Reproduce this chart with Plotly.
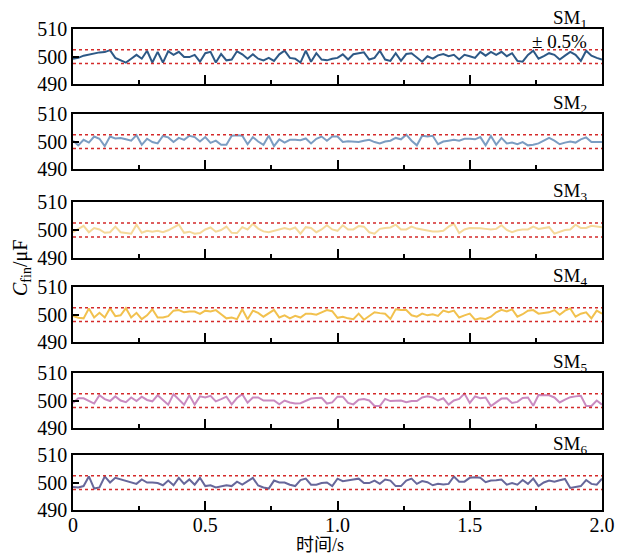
import plotly.graph_objects as go

# ---------------- data ----------------
n_pts = 101
time_s = [i * 0.02 for i in range(n_pts)]

sm1 = [499.2, 499.5, 500.3, 500.7, 501.2, 501.5, 501.6, 502.3, 499.5, 498.7,
       497.8, 499.2, 500.6, 499.2, 502.1, 497.8, 501.7, 497.8, 501.9, 500.6,
       501.7, 499.8, 499.8, 500.6, 498.1, 501.2, 501.7, 497.8, 500.9, 498.6,
       498.9, 501.9, 500.8, 499.2, 500.8, 499.2, 498.6, 499.5, 498.4, 500.8,
       502.1, 499.5, 499.2, 497.8, 502.1, 498.1, 501.2, 498.9, 498.6, 499.2,
       499.5, 500.8, 498.9, 500.8, 501.2, 501.5, 498.9, 499.5, 502.1, 498.9,
       498.4, 501.2, 498.4, 500.9, 501.2, 499.5, 498.1, 500.1, 499.2, 500.4,
       500.9, 500.1, 500.6, 498.9, 500.6, 500.1, 499.5, 501.7, 500.3, 501.7,
       500.6, 501.7, 500.1, 501.2, 498.4, 498.1, 500.6, 502.1, 499.2, 500.1,
       501.2, 500.6, 498.9, 500.3, 501.7, 500.6, 498.4, 502.1, 500.3, 499.5,
       498.9]

sm2 = [500.3, 498.6, 500.6, 499.6, 501.8, 501.0, 498.3, 501.8, 501.1, 501.3,
       500.8, 500.3, 502.3, 498.8, 501.0, 499.8, 499.3, 502.0, 501.5, 499.8,
       501.3, 500.6, 502.1, 501.6, 500.0, 501.6, 499.5, 500.3, 498.8, 498.8,
       502.1, 502.3, 502.1, 499.0, 501.6, 500.0, 498.8, 502.1, 498.3, 500.8,
       499.6, 500.6, 500.6, 500.5, 501.1, 499.3, 501.0, 501.8, 500.3, 501.8,
       501.8, 499.8, 500.1, 500.0, 499.8, 500.3, 500.6, 499.8, 499.3, 500.0,
       500.3, 501.3, 500.8, 502.5, 500.3, 498.6, 502.1, 501.8, 502.1, 499.0,
       500.0, 500.3, 500.6, 500.3, 501.0, 501.0, 500.8, 501.6, 498.6, 502.0,
       498.8, 501.3, 499.3, 499.6, 499.0, 499.8, 498.6, 498.8, 499.3, 500.3,
       501.3, 500.3, 499.0, 499.6, 500.0, 499.6, 500.8, 501.5, 499.8, 499.8,
       499.8]

sm3 = [499.2, 500.2, 501.5, 499.2, 500.7, 500.2, 499.0, 499.2, 501.2, 499.2,
       499.0, 498.7, 501.9, 499.0, 499.7, 499.4, 499.7, 499.2, 499.9, 500.9,
       501.9, 499.0, 499.4, 498.7, 498.9, 500.2, 500.9, 499.4, 500.0, 501.2,
       499.0, 498.9, 501.0, 500.2, 502.2, 500.5, 499.5, 499.2, 499.7, 500.2,
       500.7, 500.2, 500.9, 498.7, 501.0, 500.7, 499.2, 500.2, 501.7, 500.2,
       499.7, 501.7, 500.2, 500.2, 501.4, 501.2, 499.2, 498.7, 500.4, 500.7,
       500.9, 501.9, 500.2, 500.2, 501.2, 500.5, 500.2, 499.7, 499.5, 499.5,
       499.7, 501.2, 502.2, 498.9, 500.2, 500.7, 500.7, 500.6, 500.4, 500.2,
       500.4, 501.7, 500.0, 499.2, 499.9, 500.2, 500.2, 501.2, 500.4, 500.7,
       501.0, 498.7, 499.4, 500.0, 500.2, 501.9, 500.7, 500.7, 501.5, 501.2,
       501.0]

sm4 = [499.5, 498.8, 498.6, 502.2, 498.9, 500.6, 498.9, 502.3, 499.4, 499.7,
       502.3, 498.9, 500.6, 498.3, 499.7, 501.9, 498.9, 498.9, 499.4, 501.4,
       501.6, 500.8, 501.1, 501.1, 500.2, 501.4, 501.1, 501.6, 500.1, 498.6,
       498.9, 498.3, 501.9, 498.3, 501.4, 500.6, 499.2, 500.3, 501.7, 498.9,
       499.7, 498.6, 499.5, 498.9, 500.3, 500.3, 499.9, 500.8, 501.6, 501.2,
       498.8, 499.2, 498.6, 498.3, 500.3, 498.1, 499.5, 500.8, 500.5, 500.3,
       498.4, 501.9, 501.6, 501.6, 499.7, 499.2, 500.3, 499.7, 500.1, 499.5,
       501.4, 500.8, 501.4, 498.9, 499.7, 500.3, 498.1, 498.6, 498.4, 499.2,
       500.8, 501.7, 501.1, 501.9, 499.2, 500.1, 501.4, 501.6, 500.3, 500.5,
       500.8, 501.6, 499.9, 501.4, 502.2, 499.2, 500.3, 500.8, 498.6, 501.4,
       500.3]

sm5 = [499.1, 500.8, 500.8, 499.8, 498.9, 501.9, 500.5, 499.8, 501.5, 500.0,
       499.4, 501.1, 499.8, 501.4, 500.2, 499.7, 501.9, 500.2, 498.5, 502.3,
       500.3, 498.5, 501.9, 498.5, 501.5, 501.1, 501.7, 499.7, 500.5, 501.4,
       498.6, 500.9, 502.3, 499.2, 501.1, 501.1, 500.0, 500.0, 500.0, 498.6,
       500.0, 499.3, 498.9, 499.0, 500.0, 500.7, 500.9, 501.0, 498.9, 499.3,
       501.4, 501.4, 499.1, 498.6, 500.3, 500.5, 500.0, 498.0, 498.0, 500.6,
       499.8, 500.0, 500.0, 499.4, 499.8, 499.8, 501.1, 501.5, 501.1, 500.0,
       500.8, 498.5, 500.0, 500.6, 502.5, 499.1, 501.5, 500.8, 501.1, 498.0,
       499.3, 500.7, 500.8, 499.1, 499.5, 500.9, 501.1, 498.1, 502.0, 501.9,
       501.9, 501.1, 499.3, 500.3, 501.2, 501.5, 501.7, 498.0, 498.0, 500.0,
       498.5]

sm6 = [498.4, 498.2, 498.7, 502.2, 497.8, 498.2, 502.2, 500.0, 501.7, 501.2,
       500.7, 500.1, 499.5, 501.1, 500.0, 500.0, 499.8, 499.0, 500.7, 499.0,
       501.7, 499.5, 501.1, 499.2, 501.7, 498.7, 499.0, 498.2, 498.5, 499.0,
       498.7, 500.3, 499.2, 500.3, 501.7, 498.9, 498.2, 497.8, 500.7, 500.0,
       500.0, 499.2, 498.7, 500.9, 501.4, 499.2, 499.2, 499.8, 500.0, 498.7,
       501.4, 500.5, 500.7, 501.1, 501.4, 499.8, 499.8, 500.7, 499.5, 501.1,
       500.7, 498.7, 498.7, 500.7, 501.4, 499.5, 500.5, 500.1, 499.0, 499.5,
       499.3, 499.5, 502.2, 500.3, 500.3, 501.7, 501.9, 501.7, 500.1, 500.7,
       500.8, 501.1, 499.2, 499.8, 499.2, 500.9, 499.5, 501.4, 498.7, 500.0,
       500.7, 500.3, 500.8, 501.3, 498.0, 498.4, 498.7, 500.9, 499.5, 499.2,
       501.4]

series = [sm1, sm2, sm3, sm4, sm5, sm6]
series_names = ["SM<sub>1</sub>", "SM<sub>2</sub>", "SM<sub>3</sub>",
                "SM<sub>4</sub>", "SM<sub>5</sub>", "SM<sub>6</sub>"]
colors = ["#2d5986", "#7b9dc2", "#f5d99a", "#f2c14e", "#c98ac0", "#67679a"]

nominal = 500.0
tolerance_pct = 0.5
upper = nominal * (1 + tolerance_pct / 100)
lower = nominal * (1 - tolerance_pct / 100)

y_ticks = [490, 500, 510]
x_tickvals = [0, 0.5, 1.0, 1.5, 2.0]
x_ticktext = ["0", "0.5", "1.0", "1.5", "2.0"]

# ---------------- layout geometry ----------------
W, H = 619, 554
ml, mr, mt, mb = 73, 17, 29, 44
plot_w = W - ml - mr
plot_h = H - mt - mb
panel_px = [(29, 84), (114, 169), (202, 258), (287, 342), (373, 428), (455, 510)]
domains = [[(H - mb - bot) / plot_h, min(1.0, (H - mb - top) / plot_h)] for top, bot in panel_px]

FONT = "Liberation Serif, Times New Roman, Noto Sans CJK SC, serif"

fig = go.Figure()
layout = dict(
    width=W, height=H,
    margin=dict(l=ml, r=mr, t=mt, b=mb, autoexpand=False),
    paper_bgcolor="white", plot_bgcolor="white",
    showlegend=False,
    font=dict(family=FONT, size=20, color="black"),
)

annotations = []
for k in range(6):
    idx = "" if k == 0 else str(k + 1)
    xa, ya = "x" + idx, "y" + idx
    fig.add_trace(go.Scatter(x=time_s, y=series[k], mode="lines",
                             line=dict(color=colors[k], width=2),
                             xaxis=xa, yaxis=ya, hoverinfo="skip"))
    for lvl in (upper, lower):
        fig.add_trace(go.Scatter(x=[0, 2], y=[lvl, lvl], mode="lines",
                                 line=dict(color="#d42a2a", width=1.5, dash="dot"),
                                 xaxis=xa, yaxis=ya, hoverinfo="skip"))
    layout["xaxis" + idx] = dict(
        domain=[0, 1], anchor=ya, range=[0, 2], automargin=False,
        tickvals=x_tickvals, ticktext=x_ticktext,
        showticklabels=(k == 5), ticklabelstandoff=-4,
        ticks="inside", ticklen=9, tickwidth=1.5, tickcolor="black",
        minor=dict(tickvals=[0.25, 0.75, 1.25, 1.75], ticks="inside",
                   ticklen=4, tickwidth=1.5, tickcolor="black"),
        showline=True, linecolor="black", linewidth=1.5, mirror=True,
        showgrid=False, zeroline=False,
        tickfont=dict(family=FONT, size=20),
    )
    layout["yaxis" + idx] = dict(
        domain=domains[k], anchor=xa, range=[490, 510], automargin=False,
        tickvals=y_ticks, ticks="inside", ticklen=6, tickwidth=1.5,
        tickcolor="black", ticklabelstandoff=0,
        showline=True, linecolor="black", linewidth=1.5, mirror=True,
        showgrid=False, zeroline=False,
        tickfont=dict(family=FONT, size=20),
    )
    annotations.append(dict(
        text=series_names[k], xref="paper", yref="paper",
        x=(589 - ml) / plot_w, y=domains[k][1],
        xanchor="right", yanchor="bottom", showarrow=False, yshift=-4,
        font=dict(family=FONT, size=19, color="black"),
    ))

annotations.append(dict(
    text="± 0.5%", xref="paper", yref="paper",
    x=(589 - ml) / plot_w, y=(H - mb - 41) / plot_h,
    xanchor="right", yanchor="middle", showarrow=False,
    font=dict(family=FONT, size=19, color="black"),
))
annotations.append(dict(
    text="<i>C</i><sub>fin</sub>/μF", xref="paper", yref="paper",
    x=-(ml - 21) / plot_w, y=(H - mb - 268) / plot_h,
    xanchor="center", yanchor="middle", textangle=-90, showarrow=False,
    font=dict(family=FONT, size=20, color="black"),
))
annotations.append(dict(
    text="时间/s", xref="paper", yref="paper",
    x=(320 - ml) / plot_w, y=-(545 - (H - mb)) / plot_h,
    xanchor="center", yanchor="middle", showarrow=False,
    font=dict(family=FONT, size=18, color="black"),
))
layout["annotations"] = annotations
fig.update_layout(**layout)
fig.write_html("out.html")
